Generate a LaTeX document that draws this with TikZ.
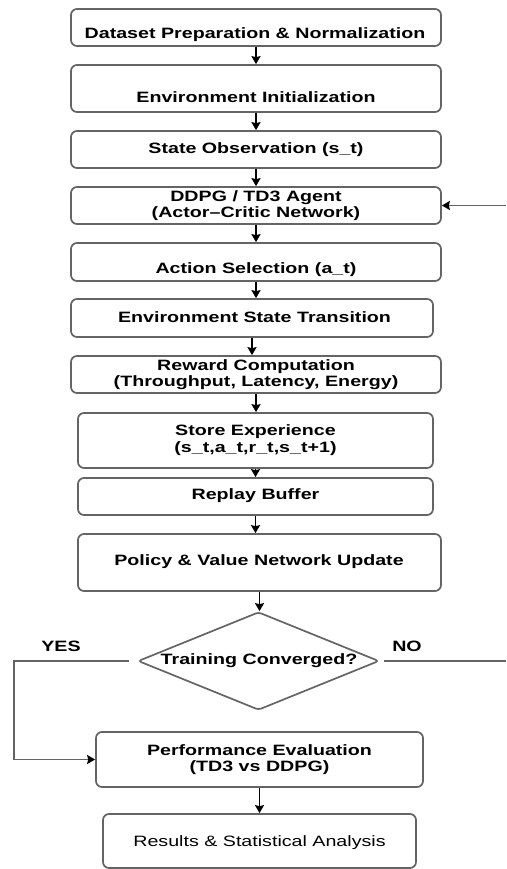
\documentclass[tikz,border=0pt]{standalone}
\usepackage{fontspec}
\setmainfont{Liberation Sans}[FakeStretch=1.31]
\usetikzlibrary{arrows.meta,shapes.geometric,calc}
\definecolor{boxgray}{RGB}{100,100,100}
\begin{document}
\begin{tikzpicture}[x=1pt,y=-1pt,
  box/.style={draw=boxgray, line width=1.7pt, rounded corners=6pt, inner sep=0pt, fill=white},
  txt/.style={font=\fontsize{15}{16.5}\selectfont\bfseries, align=center, inner sep=0pt},
  rtxt/.style={font=\fontsize{15}{16.5}\selectfont, align=center, inner sep=0pt},
  flow/.style={draw=black, line width=1.6pt, -{Stealth[length=8pt,width=9pt,inset=1pt]}},
  loopline/.style={draw=boxgray, line width=1.7pt},
  looparrow/.style={draw=boxgray, line width=1.7pt, -{Stealth[length=8pt,width=9pt,inset=1pt,color=black]}}]
\useasboundingbox (0,0) rectangle (506,869);

% boxes
\node[box, minimum width=370pt, minimum height=37pt] (b1) at (256,27.5) {};
\node[box, minimum width=370pt, minimum height=47pt] (b2) at (256,88.5) {};
\node[box, minimum width=370pt, minimum height=37pt] (b3) at (256,149.5) {};
\node[box, minimum width=370pt, minimum height=37pt] (b4) at (256,205.5) {};
\node[box, minimum width=370pt, minimum height=38pt] (b5) at (256,262) {};
\node[box, minimum width=362pt, minimum height=38pt] (b6) at (252,318) {};
\node[box, minimum width=370pt, minimum height=37pt] (b7) at (256,374.5) {};
\node[box, minimum width=355pt, minimum height=55pt] (b8) at (255.5,440.5) {};
\node[box, minimum width=355pt, minimum height=37pt] (b9) at (255.5,496.5) {};
\node[box, minimum width=363pt, minimum height=57pt] (b10) at (259.5,562.5) {};
\node[draw=boxgray, line width=1.7pt, diamond, rounded corners=3pt, minimum width=241pt, minimum height=98pt, inner sep=0pt] (d) at (258.5,661) {};
\node[box, minimum width=327pt, minimum height=55pt] (b11) at (259.5,759.5) {};
\node[box, minimum width=313pt, minimum height=54pt] (b12) at (259.5,841) {};

% texts
\node[txt] (t1) at (255,35) {Dataset Preparation \& Normalization};
\node[txt] (t2) at (256,97) {Environment Initialization};
\node[txt] (t3) at (256,150) {State Observation (s\_t)};
\node[txt] (t4) at (256,205.5) {DDPG / TD3 Agent\\(Actor–Critic Network)};
\node[txt] (t5) at (256,270) {Action Selection (a\_t)};
\node[txt] (t6) at (254.5,317) {Environment State Transition};
\node[txt] (t7) at (256,374.5) {Reward Computation\\(Throughput, Latency, Energy)};
\node[txt] (t8) at (255.5,440) {Store Experience\\(s\_t,a\_t,r\_t,s\_t+1)};
\node[txt] (t9) at (255.5,496) {Replay Buffer};
\node[txt] (t10) at (259,562) {Policy \& Value Network Update};
\node[txt] (td) at (259,661) {Training Converged?};
\node[txt] (t11) at (259.5,759.5) {Performance Evaluation\\(TD3 vs DDPG)};
\node[rtxt] (t12) at (259.5,843) {Results \& Statistical Analysis};
\node[txt] (yes) at (61,646) {YES};
\node[txt] (no) at (407,646) {NO};

% main flow
\draw[flow] (b1.south) -- (b2.north);
\draw[flow] (b2.south) -- (b3.north);
\draw[flow] (b3.south) -- (b4.north);
\draw[flow] (b4.south) -- (b5.north);
\draw[flow] (b5.south) -- (b5.south |- b6.north);
\draw[flow] (b6.south) -- (b6.south |- b7.north);
\draw[flow] (b7.south) -- (b7.south |- b8.north);
\draw[flow] (b8.south) -- (b8.south |- b9.north);
\draw[flow] (b9.south) -- (b9.south |- b10.north);
\draw[flow] (b10.south) -- (b10.south |- d.north);
\draw[flow] (b11.south) -- (b11.south |- b12.north);

% decision branches
\coordinate (yl) at (14,661);
\coordinate (nr) at (506,661);
\coordinate (fr) at (506,205.5);
\draw[looparrow] ([xshift=-8pt]d.west) -- (yl) |- (b11.west);
\draw[loopline] ([xshift=4pt]d.east) -- (nr);
\draw[looparrow] (fr) -- (b4.east);
\end{tikzpicture}
\end{document}
